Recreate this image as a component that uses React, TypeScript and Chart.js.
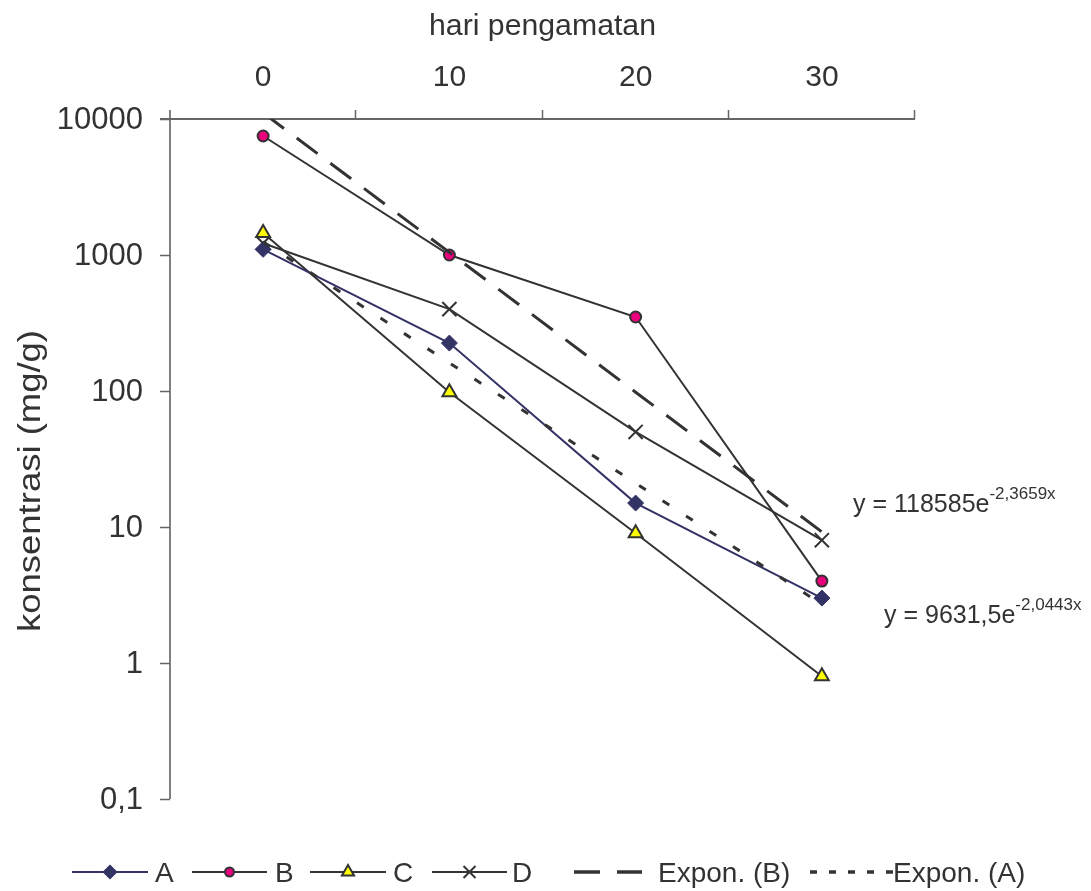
import React, { useEffect, useRef } from 'react';
import { Chart, registerables } from 'chart.js';

Chart.register(...registerables);

// ---- data ----
const days = ['0', '10', '20', '30'];
const seriesA = [1100, 225, 15, 3];
const seriesB = [7500, 1000, 350, 4];
const seriesC = [1450, 98, 9, 0.8];
const seriesD = [1220, 400, 50, 8];
const trendB = [11100, 1045, 98, 9.2];
const trendA = [1250, 161, 21, 2.7];
const yTickValues = [10000, 1000, 100, 10, 1, 0.1];
const yTickLabels = ['10000', '1000', '100', '10', '1', '0,1'];
const xTitle = 'hari pengamatan';
const yTitle = 'konsentrasi (mg/g)';
const eqB = ['y = 118585e', '-2,3659x'];
const eqA = ['y = 9631,5e', '-2,0443x'];
const legendLabels = ['A', 'B', 'C', 'D', 'Expon. (B)', 'Expon. (A)'];

const FONT = '"Liberation Sans", Arial, Helvetica, sans-serif';
const TEXT = '#333333';
const DARK = '#333333';
const NAVY = '#333366';
const PINK = '#e8007d';
const YELLOW = '#ffff00';

function drawMarker(ctx: CanvasRenderingContext2D, kind: string, x: number, y: number, r: number) {
  ctx.save();
  ctx.lineWidth = 1.5;
  if (kind === 'diamond') {
    ctx.fillStyle = NAVY;
    ctx.strokeStyle = NAVY;
    ctx.beginPath();
    ctx.moveTo(x, y - r);
    ctx.lineTo(x + r, y);
    ctx.lineTo(x, y + r);
    ctx.lineTo(x - r, y);
    ctx.closePath();
    ctx.fill();
    ctx.stroke();
  } else if (kind === 'circle') {
    ctx.fillStyle = PINK;
    ctx.strokeStyle = DARK;
    ctx.lineWidth = 2;
    ctx.beginPath();
    ctx.arc(x, y, r, 0, Math.PI * 2);
    ctx.fill();
    ctx.stroke();
  } else if (kind === 'triangle') {
    ctx.fillStyle = YELLOW;
    ctx.strokeStyle = DARK;
    ctx.lineWidth = 2;
    const h = r * 1.5;
    const w = r * Math.sqrt(3);
    ctx.beginPath();
    ctx.moveTo(x, y - r);
    ctx.lineTo(x + w / 2, y + h - r);
    ctx.lineTo(x - w / 2, y + h - r);
    ctx.closePath();
    ctx.fill();
    ctx.stroke();
  } else if (kind === 'cross') {
    ctx.strokeStyle = DARK;
    ctx.lineWidth = 2;
    ctx.beginPath();
    ctx.moveTo(x - r, y - r);
    ctx.lineTo(x + r, y + r);
    ctx.moveTo(x + r, y - r);
    ctx.lineTo(x - r, y + r);
    ctx.stroke();
  }
  ctx.restore();
}

function stretchedText(
  ctx: CanvasRenderingContext2D,
  text: string,
  x: number,
  y: number,
  targetWidth: number,
) {
  const w = ctx.measureText(text).width;
  const s = targetWidth / w;
  ctx.save();
  ctx.translate(x, y);
  ctx.scale(s, 1);
  ctx.textAlign = 'center';
  ctx.fillText(text, 0, 0);
  ctx.restore();
}

const decorPlugin = {
  id: 'decor',
  beforeDatasetsDraw(chart: any) {
    const ctx: CanvasRenderingContext2D = chart.ctx;
    const area = chart.chartArea;
    const ys = chart.scales.y;
    ctx.save();
    ctx.strokeStyle = '#808080';
    ctx.lineWidth = 2;
    ctx.beginPath();
    ctx.moveTo(area.left, area.top - 9);
    ctx.lineTo(area.left, area.bottom);
    ctx.stroke();
    yTickValues.forEach((v) => {
      const py = Math.round(ys.getPixelForValue(v)) + 0.5;
      ctx.beginPath();
      ctx.lineWidth = 1.5;
      ctx.strokeStyle = '#666666';
      ctx.moveTo(area.left - 10, py);
      ctx.lineTo(area.left, py);
      ctx.stroke();
    });
    ctx.strokeStyle = '#666666';
    ctx.lineWidth = 2;
    ctx.beginPath();
    ctx.moveTo(area.left - 10, area.top);
    ctx.lineTo(area.right, area.top);
    ctx.stroke();
    const n = days.length;
    ctx.lineWidth = 1.5;
    for (let i = 1; i <= n; i++) {
      const px = Math.round(area.left + ((area.right - area.left) * i) / n) - 0.5;
      ctx.beginPath();
      ctx.moveTo(px, area.top - 9);
      ctx.lineTo(px, area.top);
      ctx.stroke();
    }
    ctx.restore();
  },
  afterDraw(chart: any) {
    const ctx: CanvasRenderingContext2D = chart.ctx;
    const area = chart.chartArea;
    const xs = chart.scales.x;
    const ys = chart.scales.y;
    ctx.save();
    ctx.fillStyle = TEXT;
    ctx.font = `30px ${FONT}`;
    ctx.textAlign = 'center';
    ctx.textBaseline = 'alphabetic';
    days.forEach((d, i) => {
      ctx.fillText(d, xs.getPixelForValue(i), 86);
    });
    ctx.font = `31px ${FONT}`;
    ctx.textAlign = 'right';
    ctx.textBaseline = 'middle';
    yTickValues.forEach((v, i) => {
      ctx.fillText(yTickLabels[i], area.left - 27, ys.getPixelForValue(v) + 1);
    });
    ctx.textBaseline = 'alphabetic';
    ctx.font = `30px ${FONT}`;
    stretchedText(ctx, xTitle, (area.left + area.right) / 2, 35, 227);
    ctx.save();
    ctx.translate(40, 481);
    ctx.rotate(-Math.PI / 2);
    ctx.font = `31px ${FONT}`;
    stretchedText(ctx, yTitle, 0, 0, 302);
    ctx.restore();

    ctx.textAlign = 'left';
    ctx.font = `25px ${FONT}`;
    ctx.fillText(eqB[0], 853, 512);
    let w = ctx.measureText(eqB[0]).width;
    ctx.font = `17px ${FONT}`;
    ctx.fillText(eqB[1], 853 + w, 499);
    ctx.font = `25px ${FONT}`;
    ctx.fillText(eqA[0], 884, 623);
    w = ctx.measureText(eqA[0]).width;
    ctx.font = `17px ${FONT}`;
    ctx.fillText(eqA[1], 884 + w, 610);

    const ly = 872;
    const items = [
      { x0: 72, x1: 148, tx: 155, color: NAVY, marker: 'diamond', r: 6.5, dash: [] as number[], lw: 2 },
      { x0: 192, x1: 267, tx: 275, color: DARK, marker: 'circle', r: 4.5, dash: [], lw: 2 },
      { x0: 310, x1: 386, tx: 393, color: DARK, marker: 'triangle', r: 7, dash: [], lw: 2 },
      { x0: 432, x1: 507, tx: 512, color: DARK, marker: 'cross', r: 6, dash: [], lw: 2 },
      { x0: 574, x1: 642, tx: 658, color: DARK, marker: '', r: 0, dash: [26, 17], lw: 3.5 },
      { x0: 810, x1: 893, tx: 893, color: DARK, marker: '', r: 0, dash: [7, 12], lw: 3.5 },
    ];
    ctx.font = `28px ${FONT}`;
    items.forEach((it, i) => {
      ctx.save();
      ctx.strokeStyle = it.color;
      ctx.lineWidth = it.lw;
      ctx.setLineDash(it.dash);
      ctx.beginPath();
      ctx.moveTo(it.x0, ly);
      ctx.lineTo(it.x1, ly);
      ctx.stroke();
      ctx.restore();
      if (it.marker) drawMarker(ctx, it.marker, (it.x0 + it.x1) / 2, ly, it.r);
      ctx.fillStyle = TEXT;
      ctx.textAlign = 'left';
      ctx.fillText(legendLabels[i], it.tx, 882);
    });
    ctx.restore();
  },
};

export default function App() {
  const ref = useRef<HTMLCanvasElement | null>(null);
  useEffect(() => {
    if (!ref.current) return;
    const chart = new Chart(ref.current, {
      type: 'line',
      data: {
        labels: days,
        datasets: [
          {
            label: 'Expon. (B)',
            data: trendB,
            borderColor: DARK,
            borderWidth: 3,
            borderDash: [26, 16],
            pointRadius: 0,
            tension: 0,
          },
          {
            label: 'Expon. (A)',
            data: trendA,
            borderColor: DARK,
            borderWidth: 3,
            borderDash: [8, 20],
            pointRadius: 0,
            tension: 0,
          },
          {
            label: 'A',
            data: seriesA,
            borderColor: NAVY,
            borderWidth: 2,
            pointStyle: 'rectRot',
            pointRadius: 8,
            pointBackgroundColor: NAVY,
            pointBorderColor: NAVY,
            pointBorderWidth: 1,
            tension: 0,
          },
          {
            label: 'B',
            data: seriesB,
            borderColor: DARK,
            borderWidth: 2,
            pointStyle: 'circle',
            pointRadius: 5.5,
            pointBackgroundColor: PINK,
            pointBorderColor: DARK,
            pointBorderWidth: 2,
            tension: 0,
          },
          {
            label: 'C',
            data: seriesC,
            borderColor: DARK,
            borderWidth: 2,
            pointStyle: 'triangle',
            pointRadius: 8,
            pointBackgroundColor: YELLOW,
            pointBorderColor: DARK,
            pointBorderWidth: 2,
            tension: 0,
          },
          {
            label: 'D',
            data: seriesD,
            borderColor: DARK,
            borderWidth: 2,
            pointStyle: 'crossRot',
            pointRadius: 10,
            pointBorderColor: DARK,
            pointBorderWidth: 2,
            tension: 0,
          },
        ],
      },
      options: {
        responsive: false,
        animation: false,
        events: [],
        layout: { padding: { left: 170, right: 176, top: 119, bottom: 92 } },
        scales: {
          x: { type: 'category', labels: days, offset: true, display: false },
          y: { type: 'logarithmic', min: 0.1, max: 10000, display: false },
        },
        plugins: { legend: { display: false }, tooltip: { enabled: false } },
      },
      plugins: [decorPlugin],
    });
    return () => chart.destroy();
  }, []);
  return (
    <div style={{ position: 'absolute', left: 0, top: 0, width: 1091, height: 891, background: '#fff' }}>
      <canvas ref={ref} width={1091} height={891} style={{ display: 'block' }} />
    </div>
  );
}
